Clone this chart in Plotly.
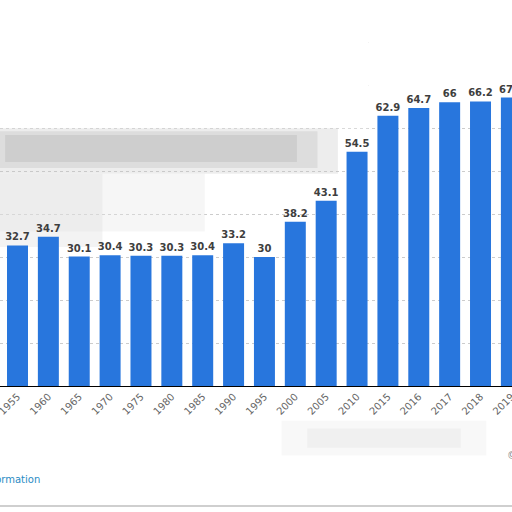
import plotly.graph_objects as go

# values (the view is cropped at both sides)
years = ['1955', '1960', '1965', '1970', '1975', '1980', '1985', '1990', '1995',
         '2000', '2005', '2010', '2015', '2016', '2017', '2018', '2019']
values = [32.7, 34.7, 30.1, 30.4, 30.3, 30.3, 30.4, 33.2, 30,
          38.2, 43.1, 54.5, 62.9, 64.7, 66, 66.2, 67.1]

BLUE = '#2876dd'
FONT = 'DejaVu Sans'
X_RANGE = [-0.567, 16.02]
Y_MAX = 89.8


def box(x0, x1, y0, y1, color, opacity=1.0):
    # overlay rectangle given as fractions of the plot area, drawn between grid and bars
    xs = X_RANGE[1] - X_RANGE[0]
    return dict(type='rect', xref='x', yref='y',
                x0=X_RANGE[0] + x0 * xs, x1=X_RANGE[0] + x1 * xs,
                y0=y0 * Y_MAX, y1=y1 * Y_MAX, fillcolor=color,
                opacity=opacity, line=dict(width=0), layer='between')


fig = go.Figure()
fig.add_trace(go.Bar(
    x=years,
    y=values,
    marker=dict(color=BLUE, line=dict(width=0)),
    text=values,
    texttemplate='%{text}',
    textposition='outside',
    constraintext='none',
    textfont=dict(family=FONT, size=10, color='#3e3e3e', weight='bold'),
    cliponaxis=False,
    hoverinfo='x+y',
))

# the screenshot has a white/blurred overlay on top of the chart, roughly redone here
shapes = [
    # white top part hiding the upper grid lines
    box(0, 0.72, 0.668, 1, 'white'),
    box(0.72, 1, 0.77, 1, 'white'),
    # soft grey blur band (stacked for a rough gradient)
    box(0, 0.66, 0.55, 0.668, '#c4c4c4', 0.3),
    box(0, 0.62, 0.565, 0.66, '#c0c0c0', 0.35),
    box(0.01, 0.58, 0.58, 0.65, '#b8b8b8', 0.4),
    # lighter haze below it on the left
    box(0, 0.4, 0.40, 0.55, '#e4e4e4', 0.35),
    box(0, 0.2, 0.36, 0.55, '#dcdcdc', 0.35),
    # faint smudge under the year labels
    dict(type='rect', xref='paper', yref='paper', x0=0.6, x1=0.9, y0=-0.16, y1=-0.11,
         fillcolor='#e0e0e0', opacity=0.35, line=dict(width=0), layer='below'),
    dict(type='rect', xref='paper', yref='paper', x0=0.55, x1=0.95, y0=-0.18, y1=-0.09,
         fillcolor='#e8e8e8', opacity=0.3, line=dict(width=0), layer='below'),
    # bottom border line
    dict(type='line', xref='paper', yref='paper', x0=0, x1=1, y0=-0.311, y1=-0.311,
         line=dict(color='#cfcfcf', width=2)),
]

fig.update_layout(
    width=512,
    height=512,
    margin=dict(l=0, r=0, t=0, b=126, pad=0),
    paper_bgcolor='white',
    plot_bgcolor='white',
    bargap=0.32,
    showlegend=False,
    font=dict(family=FONT),
    shapes=shapes,
    annotations=[
        dict(text='Additional Information', xref='paper', yref='paper',
             x=0.083, y=-0.241, xanchor='right', yanchor='middle', showarrow=False,
             font=dict(family=FONT, size=10, color='#2a8cc4')),
        dict(text='©', xref='paper', yref='paper',
             x=0.986, y=-0.181, xanchor='left', yanchor='middle', showarrow=False,
             font=dict(family=FONT, size=10, color='#8a8a8a')),
    ],
)

fig.update_xaxes(
    type='category',
    range=X_RANGE,
    automargin=False,
    tickangle=-45,
    tickfont=dict(family=FONT, size=10, color='#666666'),
    showline=True,
    linecolor='#000000',
    linewidth=1,
    ticks='',
    showgrid=False,
)
fig.update_yaxes(
    range=[0, Y_MAX],
    dtick=10,
    automargin=False,
    showticklabels=False,
    showgrid=True,
    gridcolor='#cccccc',
    griddash='dot',
    gridwidth=1,
    zeroline=False,
)

# drop the browser's default 8px body margin so the figure sits at the window corner
fig.write_html('out.html', config={'displayModeBar': False},
               post_script="document.body.style.margin='0';")
